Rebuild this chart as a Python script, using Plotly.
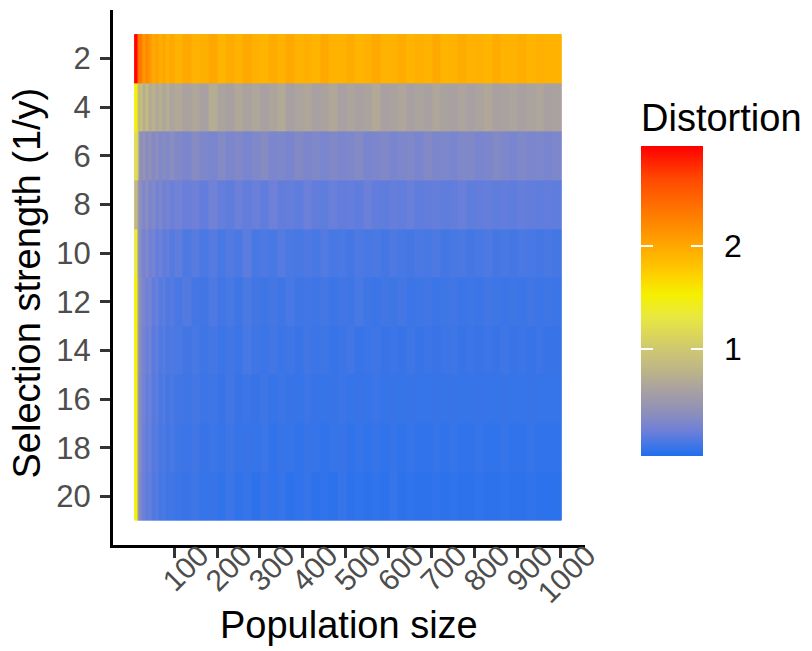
import plotly.graph_objects as go

# Population size bin edges (columns of the heatmap)
pop_edges = [8, 14, 18, 22, 27, 33, 40, 48, 56, 64, 72, 80, 90, 100,
             120, 140, 160, 180, 200, 220, 240, 260, 280, 300,
             320, 340, 360, 380, 400, 420, 440, 460, 480, 500,
             520, 540, 560, 580, 600, 620, 640, 660, 680, 700,
             720, 740, 760, 780, 800, 820, 840, 860, 880, 900,
             920, 940, 960, 980, 1002]

# Selection strength (rows)
strength = [2, 4, 6, 8, 10, 12, 14, 16, 18, 20]

dist_s2 = [2.96, 2.4, 2.35, 2.3, 2.1, 2.22, 2.12, 2.0, 2.05, 1.96, 2.02, 1.94, 2.0,
           1.92, 2.0, 1.93, 1.95, 2.01, 1.91, 1.97, 1.92, 1.99, 1.94,
           1.91, 1.98, 1.93, 2.0, 1.92, 1.95, 1.91, 1.99, 1.93, 1.92,
           1.97, 1.91, 1.94, 2.0, 1.92, 1.93, 1.98, 1.91, 1.95, 1.92,
           1.99, 1.91, 1.93, 1.97, 1.92, 1.94, 1.91, 1.98, 1.92, 1.93,
           1.96, 1.91, 1.94, 1.92, 1.93]
dist_s4 = [1.5, 0.95, 0.82, 0.9, 0.72, 0.85, 0.68, 0.75, 0.66, 0.72, 0.64, 0.7, 0.63,
           0.67, 0.61, 0.65, 0.6, 0.7, 0.62, 0.6, 0.66, 0.61, 0.64,
           0.59, 0.63, 0.68, 0.6, 0.62, 0.65, 0.6, 0.61, 0.66, 0.59,
           0.63, 0.6, 0.62, 0.67, 0.6, 0.61, 0.64, 0.59, 0.62, 0.6,
           0.65, 0.61, 0.6, 0.63, 0.59, 0.62, 0.66, 0.6, 0.61, 0.63,
           0.6, 0.62, 0.64, 0.6, 0.61]
dist_s6 = [1.2, 1.05, 0.45, 0.36, 0.42, 0.33, 0.4, 0.31, 0.37, 0.3, 0.34, 0.29, 0.35,
           0.3, 0.27, 0.33, 0.28, 0.26, 0.32, 0.27, 0.3, 0.26, 0.29,
           0.33, 0.27, 0.28, 0.26, 0.31, 0.27, 0.29, 0.26, 0.3, 0.27,
           0.28, 0.32, 0.26, 0.27, 0.3, 0.26, 0.28, 0.29, 0.26, 0.31,
           0.27, 0.28, 0.26, 0.29, 0.3, 0.26, 0.27, 0.31, 0.28, 0.26,
           0.29, 0.27, 0.28, 0.26, 0.28]
dist_s8 = [0.85, 0.55, 0.4, 0.35, 0.28, 0.36, 0.25, 0.3, 0.22, 0.27, 0.2, 0.24, 0.19,
           0.22, 0.18, 0.2, 0.16, 0.21, 0.17, 0.15, 0.19, 0.16, 0.18,
           0.15, 0.2, 0.16, 0.17, 0.15, 0.19, 0.16, 0.15, 0.18, 0.16,
           0.17, 0.15, 0.19, 0.16, 0.15, 0.17, 0.16, 0.18, 0.15, 0.16,
           0.17, 0.15, 0.16, 0.18, 0.15, 0.16, 0.17, 0.15, 0.16, 0.15,
           0.17, 0.16, 0.15, 0.16, 0.15]
dist_s10 = [1.35, 0.5, 0.38, 0.3, 0.24, 0.3, 0.2, 0.24, 0.16, 0.2, 0.14, 0.17, 0.12,
            0.15, 0.1, 0.13, 0.09, 0.12, 0.08, 0.11, 0.09, 0.14, 0.08,
            0.1, 0.08, 0.12, 0.09, 0.08, 0.1, 0.08, 0.11, 0.08, 0.09,
            0.07, 0.1, 0.08, 0.09, 0.07, 0.1, 0.08, 0.07, 0.09, 0.08,
            0.1, 0.07, 0.08, 0.09, 0.07, 0.08, 0.1, 0.07, 0.08, 0.07,
            0.09, 0.08, 0.07, 0.08, 0.07]
dist_s12 = [1.5, 0.6, 0.4, 0.32, 0.26, 0.2, 0.25, 0.15, 0.18, 0.12, 0.15, 0.1, 0.12,
            0.08, 0.11, 0.07, 0.06, 0.1, 0.06, 0.08, 0.05, 0.09, 0.06,
            0.05, 0.07, 0.05, 0.08, 0.05, 0.06, 0.05, 0.07, 0.04, 0.06,
            0.05, 0.08, 0.05, 0.04, 0.06, 0.05, 0.07, 0.04, 0.05, 0.06,
            0.04, 0.05, 0.06, 0.04, 0.05, 0.04, 0.06, 0.05, 0.04, 0.05,
            0.04, 0.06, 0.04, 0.05, 0.04]
dist_s14 = [1.5, 0.58, 0.38, 0.3, 0.24, 0.18, 0.22, 0.13, 0.16, 0.1, 0.13, 0.09, 0.1,
            0.09, 0.06, 0.08, 0.05, 0.07, 0.04, 0.06, 0.04, 0.08, 0.05,
            0.04, 0.06, 0.04, 0.05, 0.03, 0.06, 0.04, 0.05, 0.03, 0.04,
            0.06, 0.03, 0.04, 0.05, 0.03, 0.04, 0.03, 0.05, 0.03, 0.04,
            0.03, 0.04, 0.05, 0.03, 0.04, 0.03, 0.04, 0.03, 0.05, 0.03,
            0.04, 0.03, 0.04, 0.03, 0.03]
dist_s16 = [1.5, 0.56, 0.36, 0.28, 0.22, 0.16, 0.2, 0.12, 0.14, 0.09, 0.11, 0.07, 0.09,
            0.06, 0.05, 0.07, 0.04, 0.05, 0.03, 0.06, 0.03, 0.04, 0.03,
            0.05, 0.02, 0.04, 0.03, 0.02, 0.04, 0.03, 0.02, 0.03, 0.04,
            0.02, 0.03, 0.02, 0.04, 0.02, 0.03, 0.02, 0.03, 0.02, 0.02,
            0.03, 0.02, 0.03, 0.02, 0.02, 0.03, 0.02, 0.02, 0.03, 0.02,
            0.02, 0.03, 0.02, 0.02, 0.02]
dist_s18 = [1.5, 0.55, 0.35, 0.27, 0.2, 0.15, 0.18, 0.11, 0.13, 0.08, 0.1, 0.06, 0.08,
            0.05, 0.04, 0.06, 0.03, 0.04, 0.02, 0.05, 0.02, 0.03, 0.02,
            0.04, 0.01, 0.03, 0.02, 0.01, 0.03, 0.02, 0.01, 0.02, 0.03,
            0.01, 0.02, 0.01, 0.02, 0.01, 0.02, 0.01, 0.02, 0.01, 0.01,
            0.02, 0.01, 0.02, 0.01, 0.01, 0.02, 0.01, 0.01, 0.02, 0.01,
            0.01, 0.02, 0.01, 0.01, 0.01]
dist_s20 = [1.5, 0.55, 0.34, 0.26, 0.19, 0.15, 0.17, 0.1, 0.12, 0.07, 0.09, 0.05, 0.06,
            0.04, 0.03, 0.05, 0.02, 0.03, 0.01, 0.04, 0.01, 0.02, 0.0,
            0.03, 0.01, 0.02, 0.0, 0.01, 0.02, 0.0, 0.01, 0.0, 0.02,
            0.0, 0.01, 0.0, 0.01, 0.0, 0.02, 0.0, 0.01, 0.0, 0.0,
            0.01, 0.0, 0.01, 0.0, 0.0, 0.01, 0.0, 0.0, 0.01, 0.0,
            0.0, 0.01, 0.0, -0.01, 0.0]

rows = [dist_s2, dist_s4, dist_s6, dist_s8, dist_s10,
        dist_s12, dist_s14, dist_s16, dist_s18, dist_s20]
for r in rows:
    assert len(r) == len(pop_edges) - 1, len(r)

x_ticks = [100, 200, 300, 400, 500, 600, 700, 800, 900, 1000]
y_ticks = [2, 4, 6, 8, 10, 12, 14, 16, 18, 20]
cbar_ticks = [1, 2]

zmin, zmax = -0.05, 2.98
stops = [(-0.05, "#1e6ff0"), (0.2, "#6f80d8"), (0.39, "#9090b8"), (0.59, "#a8a0a2"),
         (0.78, "#bdb488"), (1.0, "#d0c870"), (1.31, "#e8e840"), (1.53, "#f5f000"),
         (1.77, "#ffc800"), (2.0, "#ffa800"), (2.33, "#ff7800"), (2.65, "#ff4a00"),
         (2.98, "#ff0000")]
colorscale = [[(v - zmin) / (zmax - zmin), c] for v, c in stops]

FONT = "Liberation Sans, Arial, sans-serif"

# colour bar geometry (paper units of the plot area)
CB_X = 1.1187      # left edge of the bar
CB_THICK = 62
BAR_LEN = 310
BAR_Y = 0.456

def heat(colorbar):
    return go.Heatmap(x=pop_edges, y=strength, z=rows, colorscale=colorscale,
                      zmin=zmin, zmax=zmax, zsmooth=False, colorbar=colorbar,
                      hoverinfo="skip")

fig = go.Figure()
# main heatmap with title and labels
fig.add_trace(heat(dict(
    title=dict(text="Distortion", side="top", font=dict(size=38, color="black", family=FONT)),
    thickness=CB_THICK, thicknessmode="pixels",
    len=BAR_LEN + 47, lenmode="pixels",
    x=CB_X, xanchor="left", y=0.5, yanchor="middle",
    tickvals=cbar_ticks, ticks="outside", ticklen=15, tickcolor="rgba(0,0,0,0)",
    tickfont=dict(size=32, color="black", family=FONT),
    outlinewidth=0, xpad=0, ypad=0,
)))
# identical overlay: white tick marks on the right side of the bar
fig.add_trace(heat(dict(
    thickness=CB_THICK, thicknessmode="pixels",
    len=BAR_LEN, lenmode="pixels",
    x=CB_X, xanchor="left", y=BAR_Y, yanchor="middle",
    tickvals=cbar_ticks, ticks="inside", ticklen=12, tickcolor="white", tickwidth=1.5,
    showticklabels=False, outlinewidth=0, xpad=0, ypad=0,
)))
# identical overlay: white tick marks on the left side of the bar
fig.add_trace(heat(dict(
    thickness=12, thicknessmode="pixels",
    len=BAR_LEN, lenmode="pixels",
    x=CB_X, xanchor="left", y=BAR_Y, yanchor="middle",
    tickvals=cbar_ticks, ticks="inside", ticklen=12, tickcolor="white", tickwidth=1.5,
    showticklabels=False, outlinewidth=0, xpad=0, ypad=0,
)))

axis_common = dict(
    showline=True, linecolor="black", linewidth=3,
    ticks="outside", ticklen=10, tickwidth=2.5, tickcolor="#333333",
    showgrid=False, zeroline=False,
)

fig.update_layout(
    width=812, height=651,
    margin=dict(l=113, r=227, t=10, b=106),
    paper_bgcolor="white", plot_bgcolor="white",
    font=dict(family=FONT),
    xaxis=dict(range=[-41.9, 1056], tickvals=x_ticks, tickangle=-45,
               tickfont=dict(size=30, color="#4d4d4d", family=FONT),
               ticklabelstandoff=-32, ticklabelshift=26, **axis_common),
    yaxis=dict(range=[22, 0], tickvals=y_ticks, ticklabelstandoff=3,
               tickfont=dict(size=31, color="#4d4d4d", family=FONT), **axis_common),
    annotations=[
        dict(text="Population size", xref="paper", yref="paper", x=0.5, y=-0.1495,
             xanchor="center", yanchor="middle", showarrow=False,
             font=dict(size=38, color="black", family=FONT)),
        dict(text="Selection strength (1/y)", xref="paper", yref="paper", x=-0.183, y=0.49,
             xanchor="center", yanchor="middle", textangle=-90, showarrow=False,
             font=dict(size=38, color="black", family=FONT)),
    ],
)

fig.write_html("out.html")
